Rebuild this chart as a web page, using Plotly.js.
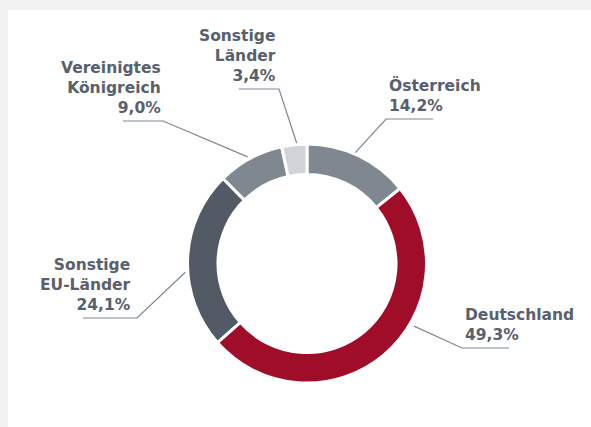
<!DOCTYPE html>
<html>
<head>
<meta charset="utf-8">
<script src="https://cdn.plot.ly/plotly-3.0.1.min.js"></script>
<style>html,body{margin:0;padding:0;background:#f2f2f2;}#chart{width:591px;height:427px;}</style>
</head>
<body>
<div id="chart"></div>
<script>
// ---- data ----
const categories = ["Österreich", "Deutschland", "Sonstige EU-Länder", "Vereinigtes Königreich", "Sonstige Länder"];
const labelLines = [["Österreich"], ["Deutschland"], ["Sonstige", "EU-Länder"], ["Vereinigtes", "Königreich"], ["Sonstige", "Länder"]];
const shares = [14.2, 49.3, 24.1, 9.0, 3.4];
const shareText = ["14,2%", "49,3%", "24,1%", "9,0%", "3,4%"];
const sliceColors = ["#7f8890", "#a00d28", "#525a66", "#7f8890", "#d1d5d9"];

// ---- layout (pixels) ----
const W = 591, H = 427;
const cx = 307, cy = 263.5, R = 119.5;
const textColor = "#58606c";
const lineColor = "#7d8791";
// label placement: side, text edge x, underline y, underline start/end x, leader fraction along slice, leader radius
const labelPos = [
  {side: "left",  x: 387, uy: 119, ux0: 386, ux1: 433, frac: 0.46, r: 121},
  {side: "left",  x: 463, uy: 348, ux0: 462, ux1: 509, frac: 0.39, r: 124},
  {side: "right", x: 133, uy: 318, ux0: 83,  ux1: 137, frac: 0.43, r: 122},
  {side: "right", x: 163, uy: 121, ux0: 123, ux1: 163, frac: 0.48, r: 122},
  {side: "right", x: 278, uy: 89,  ux0: 239, ux1: 279, frac: 0.60, r: 121}
];

const px = x => x / W;
const py = y => 1 - y / H;

const total = shares.reduce((a, b) => a + b, 0);
const shapes = [{
  type: "rect", xref: "paper", yref: "paper", layer: "below",
  x0: px(8), x1: 1, y0: 0, y1: py(10),
  fillcolor: "#ffffff", line: {width: 0}
}];
const annotations = [];
let cum = 0;
shares.forEach((v, i) => {
  const p = labelPos[i];
  const ang = (cum + v * p.frac) / total * 2 * Math.PI;
  cum += v;
  const ex = cx + p.r * Math.sin(ang);
  const ey = cy - p.r * Math.cos(ang);
  const jx = p.side === "left" ? p.ux0 : p.ux1;
  const jx2 = p.side === "left" ? p.ux1 : p.ux0;
  shapes.push({
    type: "path", xref: "paper", yref: "paper",
    path: `M ${px(ex)} ${py(ey)} L ${px(jx)} ${py(p.uy)} L ${px(jx2)} ${py(p.uy)}`,
    line: {color: lineColor, width: 1.2}
  });
  annotations.push({
    xref: "paper", yref: "paper",
    x: px(p.x), y: py(p.uy - 2),
    xanchor: p.side === "left" ? "left" : "right",
    yanchor: "bottom",
    align: p.side === "left" ? "left" : "right",
    showarrow: false,
    text: labelLines[i].concat([shareText[i]]).join("<br>"),
    font: {family: "DejaVu Sans", size: 15.5, color: textColor, weight: 700}
  });
});

const trace = {
  type: "pie",
  labels: categories,
  values: shares,
  sort: false,
  direction: "clockwise",
  rotation: 0,
  hole: 0.745,
  textinfo: "none",
  hoverinfo: "skip",
  showlegend: false,
  marker: {colors: sliceColors, line: {color: "#ffffff", width: 3}},
  domain: {x: [px(cx - R), px(cx + R)], y: [py(cy + R), py(cy - R)]}
};

Plotly.newPlot("chart", [trace], {
  width: W, height: H,
  margin: {l: 0, r: 0, t: 0, b: 0},
  paper_bgcolor: "#f2f2f2",
  shapes: shapes,
  annotations: annotations
}, {staticPlot: true});
</script>
</body>
</html>
